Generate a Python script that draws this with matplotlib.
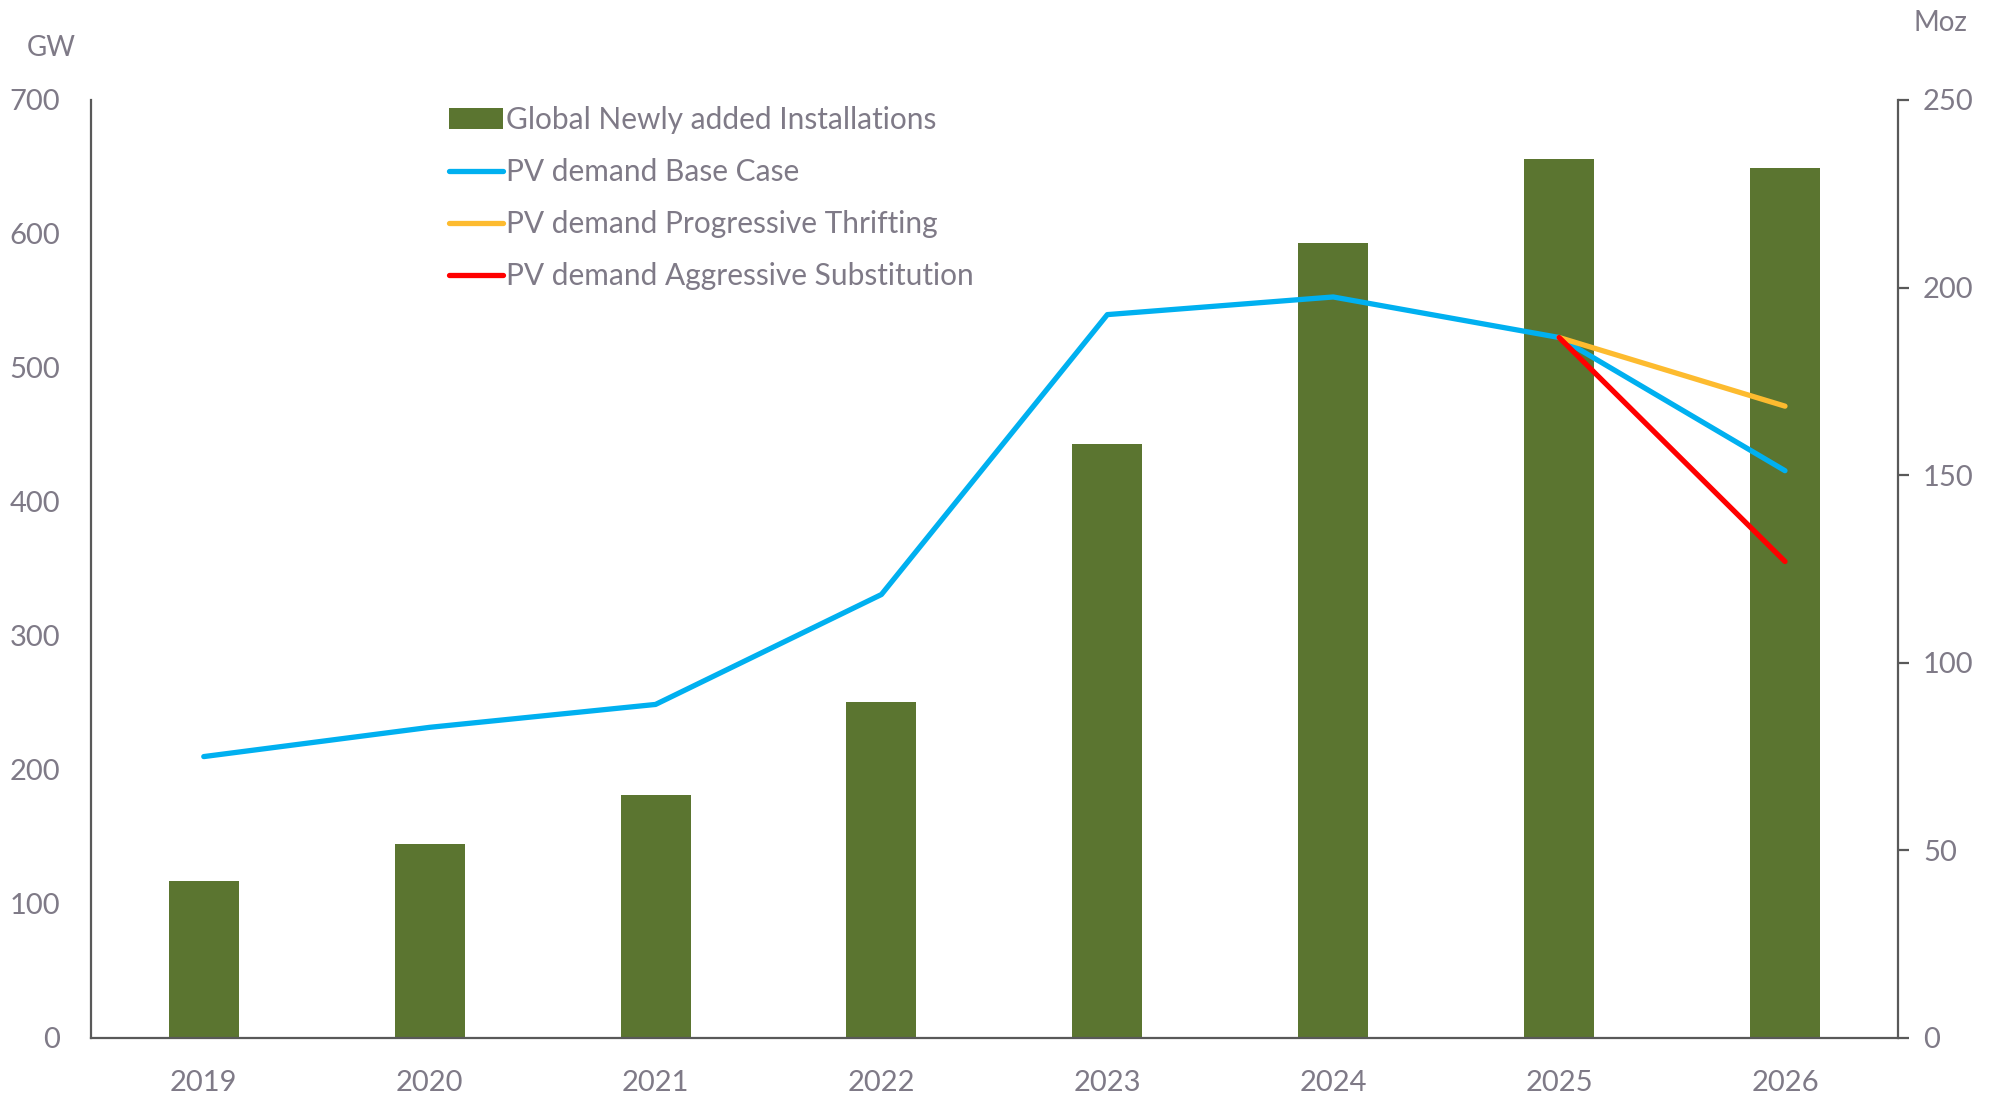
import matplotlib
matplotlib.use("Agg")
import matplotlib.pyplot as plt
import numpy as np

years = ["2019", "2020", "2021", "2022", "2023", "2024", "2025", "2026"]
installations_gw = [117, 145, 181, 251, 443, 593, 656, 649]
base_case_moz = [75, 82.8, 88.9, 118.2, 192.8, 197.5, 186.7, 151.2]
progressive_moz = [None, None, None, None, None, None, 186.7, 168.4]
aggressive_moz = [None, None, None, None, None, None, 186.7, 127.0]

GREEN = "#5b7530"
BLUE = "#00b0f0"
ORANGE = "#fdbb2f"
RED = "#ff0000"
TXT = "#7f7a87"
AX = "#595959"

plt.rcParams['font.family'] = ['Lato', 'DejaVu Sans']

fig = plt.figure(figsize=(20.05, 10.94), dpi=100)
ax = fig.add_axes([0.0453, 0.0512, 0.9013, 0.8574])
ax2 = ax.twinx()

x = np.arange(len(years))
bars = ax.bar(x, installations_gw, width=0.31, color=GREEN, zorder=2,
              label="Global Newly added Installations")

def to_arr(v):
    return np.array([np.nan if a is None else a for a in v], dtype=float)

l1, = ax2.plot(x, to_arr(base_case_moz), color=BLUE, lw=3.8, solid_capstyle='round',
               solid_joinstyle='round', label="PV demand Base Case", zorder=3)
l2, = ax2.plot(x, to_arr(progressive_moz), color=ORANGE, lw=3.8, solid_capstyle='round',
               label="PV demand Progressive Thrifting", zorder=4)
l3, = ax2.plot(x, to_arr(aggressive_moz), color=RED, lw=3.8, solid_capstyle='round',
               label="PV demand Aggressive Substitution", zorder=5)

ax.set_xlim(-0.5, 7.5)
ax.set_ylim(0, 700)
ax2.set_ylim(0, 250)
ax.set_yticks(range(0, 701, 100))
ax2.set_yticks(range(0, 251, 50))
ax.set_xticks(x)
ax.set_xticklabels(years)

for a in (ax, ax2):
    for s in a.spines.values():
        s.set_visible(False)
ax.spines['left'].set_visible(True)
ax.spines['bottom'].set_visible(True)
ax2.spines['right'].set_visible(True)
for s in (ax.spines['left'], ax.spines['bottom'], ax2.spines['right']):
    s.set_color(AX)
    s.set_linewidth(1.6)

ax.tick_params(axis='y', length=0, pad=22, labelsize=21, labelcolor=TXT)
ax.tick_params(axis='x', length=0, pad=23, labelsize=21, labelcolor=TXT)
ax2.tick_params(axis='y', length=8, width=1.6, color=AX, pad=10, labelsize=21, labelcolor=TXT)

fig.text(51/2005, 1 - 48/1094, "GW", ha='center', va='center', fontsize=20, color=TXT)
fig.text(1940/2005, 1 - 23/1094, "Moz", ha='center', va='center', fontsize=20, color=TXT)

leg = ax.legend(handles=[bars, l1, l2, l3], loc='upper left',
                bbox_to_anchor=(0.1915, 1.006), frameon=False, fontsize=21.5,
                labelcolor=TXT, handlelength=1.8, handletextpad=0.1,
                labelspacing=0.8, borderaxespad=0)

fig.savefig("out.png", dpi=100)
